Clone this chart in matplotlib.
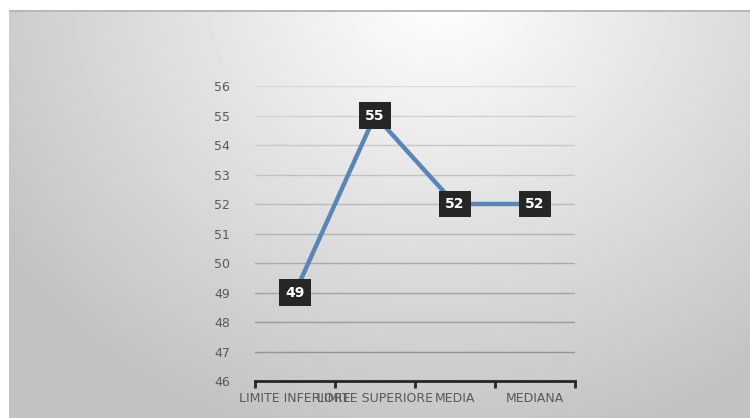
import numpy as np
import matplotlib
matplotlib.use('Agg')
import matplotlib.pyplot as plt

# data
categories = ['LIMITE INFERIORE', 'LIMITE SUPERIORE', 'MEDIA', 'MEDIANA']
values = [49, 55, 52, 52]
y_ticks = list(range(46, 57))

plt.rcParams['font.family'] = ['DejaVu Sans']

fig = plt.figure(figsize=(7.5, 4.18), dpi=100)
fig.patch.set_facecolor('white')

# gradient backdrop (chart area)
bg = fig.add_axes([9 / 750, 0, 741 / 750, 408 / 418])
yy, xx = np.mgrid[0:408, 0:741]
d = np.sqrt(((xx - 430) / 480.0) ** 2 + ((yy + 20) / 430.0) ** 2)
shade = np.clip(1.0 - 0.22 * d, 0.76, 1.0)
shade[0:2, :] = 0.72
bg.imshow(shade, cmap='gray', vmin=0, vmax=1, aspect='auto', interpolation='bilinear')
bg.axis('off')

ax = fig.add_axes([255 / 750, 1 - 381 / 418, 320 / 750, 295 / 418])
ax.patch.set_alpha(0)
x = np.arange(len(categories))
ax.plot(x, values, color='#5a86b7', lw=3.2, zorder=3, solid_capstyle='butt')

for xi, v in zip(x, values):
    ax.text(xi, v, str(v), ha='center', va='center', color='white', fontsize=10,
            fontweight='bold', zorder=5,
            bbox=dict(boxstyle='square,pad=0.45', fc='#262626', ec='none'))

ax.set_xlim(-0.5, len(categories) - 0.5)
ax.set_ylim(46, 56)
ax.set_yticks(y_ticks)
ax.set_xticks(x)
ax.set_xticklabels(categories)
ax.set_xticks(np.arange(-0.5, len(categories)), minor=True)

# gridlines get darker towards the bottom like the reference
for t in y_ticks[1:]:
    g = 0.85 - 0.3 * (56 - t) / 10
    ax.axhline(t, color=(g, g, g), lw=1, zorder=1)

for s in ['top', 'right', 'left']:
    ax.spines[s].set_visible(False)
ax.spines['bottom'].set_color('#262626')
ax.spines['bottom'].set_linewidth(2)
ax.tick_params(axis='x', which='major', length=0, pad=8, labelsize=9, labelcolor='#595959')
ax.tick_params(axis='x', which='minor', length=5, width=2, color='#262626', direction='out')
ax.tick_params(axis='y', length=0, pad=18, labelsize=9, labelcolor='#595959')

fig.savefig('out.png', dpi=100)
